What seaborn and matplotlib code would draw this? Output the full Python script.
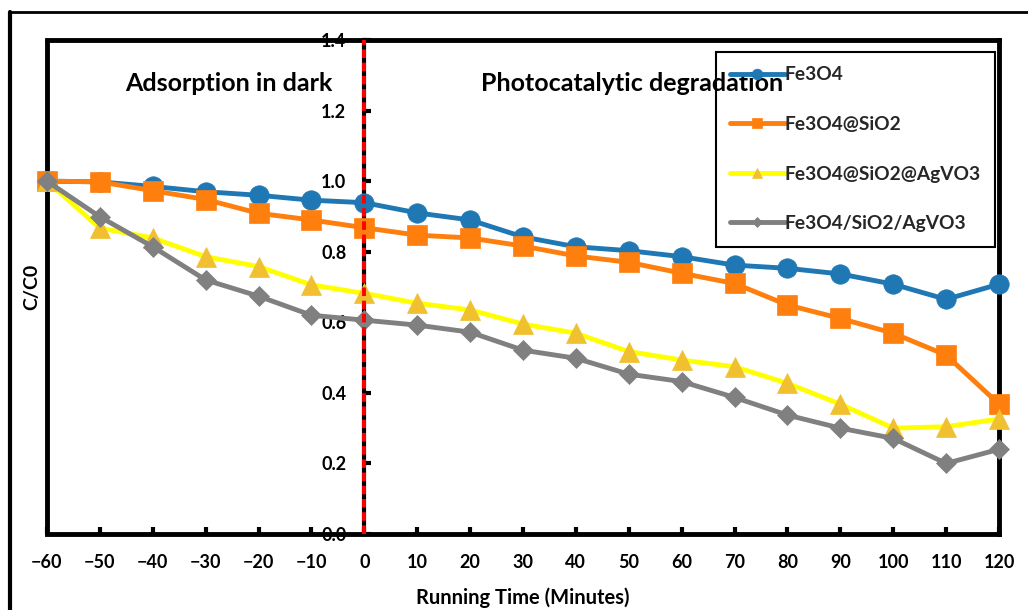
import numpy as np
import pandas as pd
import matplotlib
matplotlib.use("Agg")
import matplotlib.pyplot as plt
import seaborn as sns
from matplotlib.lines import Line2D
from matplotlib.patches import Rectangle

# --- podaci (ocitano sa slike) ---
vrijeme = [-60, -50, -40, -30, -20, -10, 0, 10, 20, 30, 40, 50, 60, 70, 80, 90, 100, 110, 120]

fe3o4 = [1.0, 0.998, 0.985, 0.97, 0.96, 0.946, 0.939, 0.91, 0.89, 0.842, 0.814, 0.803,
         0.786, 0.762, 0.753, 0.737, 0.708, 0.665, 0.708]
fe3o4_sio2 = [1.0, 0.998, 0.973, 0.948, 0.909, 0.89, 0.868, 0.847, 0.839, 0.816, 0.788,
              0.77, 0.739, 0.71, 0.649, 0.611, 0.569, 0.507, 0.368]
fe3o4_sio2_agvo3 = [1.0, 0.867, 0.839, 0.786, 0.758, 0.706, 0.682, 0.654, 0.635, 0.595,
                    0.569, 0.517, 0.493, 0.474, 0.427, 0.368, 0.30, 0.304, 0.326]
fe3o4_sio2_agvo3_b = [1.0, 0.899, 0.814, 0.72, 0.674, 0.62, 0.606, 0.592, 0.572, 0.521,
                      0.498, 0.453, 0.432, 0.387, 0.337, 0.30, 0.271, 0.20, 0.24]

nazivi = ["Fe3O4", "Fe3O4@SiO2", "Fe3O4@SiO2@AgVO3", "Fe3O4/SiO2/AgVO3"]
y_ticks = [0.0, 0.2, 0.4, 0.6, 0.8, 1.0, 1.2, 1.4]

df = pd.DataFrame({"t": vrijeme, nazivi[0]: fe3o4, nazivi[1]: fe3o4_sio2,
                   nazivi[2]: fe3o4_sio2_agvo3, nazivi[3]: fe3o4_sio2_agvo3_b})

stilovi = {
    nazivi[0]: dict(color="#1F77B4", marker="o", ms=14, mfc="#1F77B4"),
    nazivi[1]: dict(color="#FF7F0E", marker="s", ms=14, mfc="#FF7F0E"),
    nazivi[2]: dict(color="#FFFF00", marker="^", ms=14, mfc="#F0C030"),
    nazivi[3]: dict(color="#808080", marker="D", ms=10, mfc="#808080"),
}

sns.set_theme(style="white")
plt.rcParams["font.family"] = ["Lato", "DejaVu Sans"]
plt.rcParams["font.weight"] = "bold"
plt.rcParams["axes.labelweight"] = "bold"

fig = plt.figure(figsize=(10.28, 6.10), dpi=100)
ax = fig.add_axes([0.0457, 0.1246, 0.9261, 0.8098])

for naziv in nazivi:
    s = stilovi[naziv]
    sns.lineplot(data=df, x="t", y=naziv, ax=ax, color=s["color"], marker=s["marker"],
                 markersize=s["ms"], markerfacecolor=s["mfc"], markeredgecolor=s["mfc"],
                 markeredgewidth=0.5, linewidth=3.5, label=naziv, clip_on=False, zorder=3)

ax.set_xlim(-60, 120)
ax.set_ylim(0, 1.4)
ax.set_xticks(vrijeme)
ax.set_yticks(y_ticks)
ax.set_yticklabels([f"{v:.1f}" for v in y_ticks])

# okvir + y os na nuli
for sp in ["top", "right", "bottom"]:
    ax.spines[sp].set_linewidth(3.5)
    ax.spines[sp].set_color("black")
ax.spines["left"].set_position(("data", 0))
ax.spines["left"].set_linewidth(3.0)
ax.spines["left"].set_color("black")
ax.add_patch(Rectangle((0, 0), 0.0, 1, transform=ax.transAxes, fill=False,
                       lw=3.5, edgecolor="black", clip_on=False, zorder=2.5))

ax.tick_params(axis="x", direction="in", length=5, width=3, pad=14.5, labelsize=13,
               color="black", labelcolor="black", bottom=True)
ax.tick_params(axis="y", direction="in", length=5, width=3, pad=13, labelsize=13,
               color="black", labelcolor="black", left=True)

ax.axvline(0, color="red", lw=2.8, dashes=(2.2, 1.2), zorder=4)

ax.set_xlabel("Running Time (Minutes)", fontsize=14.5, labelpad=12, color="black")
ax.set_ylabel("C/C0", fontsize=14, color="black")
ax.yaxis.set_label_coords(-0.0074, 0.5)

ax.text(-25.6, 1.278, "Adsorption in dark", fontsize=18, ha="center", va="center",
        color="black")
ax.text(50.6, 1.278, "Photocatalytic degradation", fontsize=18, ha="center",
        va="center", color="black")

leg = ax.legend(loc="upper right", bbox_to_anchor=(0.9958, 0.9757), borderaxespad=0,
                fontsize=13.8, labelspacing=1.7, handlelength=2.85, handletextpad=0.0,
                markerscale=0.55, fancybox=False, edgecolor="black", framealpha=1,
                borderpad=0.75)
leg.get_frame().set_linewidth(1.5)
leg.get_frame().set_facecolor("none")

# vanjski okvir
fig.add_artist(Line2D([10 / 1028, 10 / 1028], [-0.1, 1 - 12 / 610], color="black", lw=3,
                      transform=fig.transFigure))
fig.add_artist(Line2D([10 / 1028, 1.1], [1 - 12 / 610, 1 - 12 / 610], color="black", lw=2,
                      transform=fig.transFigure))

fig.savefig("out.png", dpi=100)
